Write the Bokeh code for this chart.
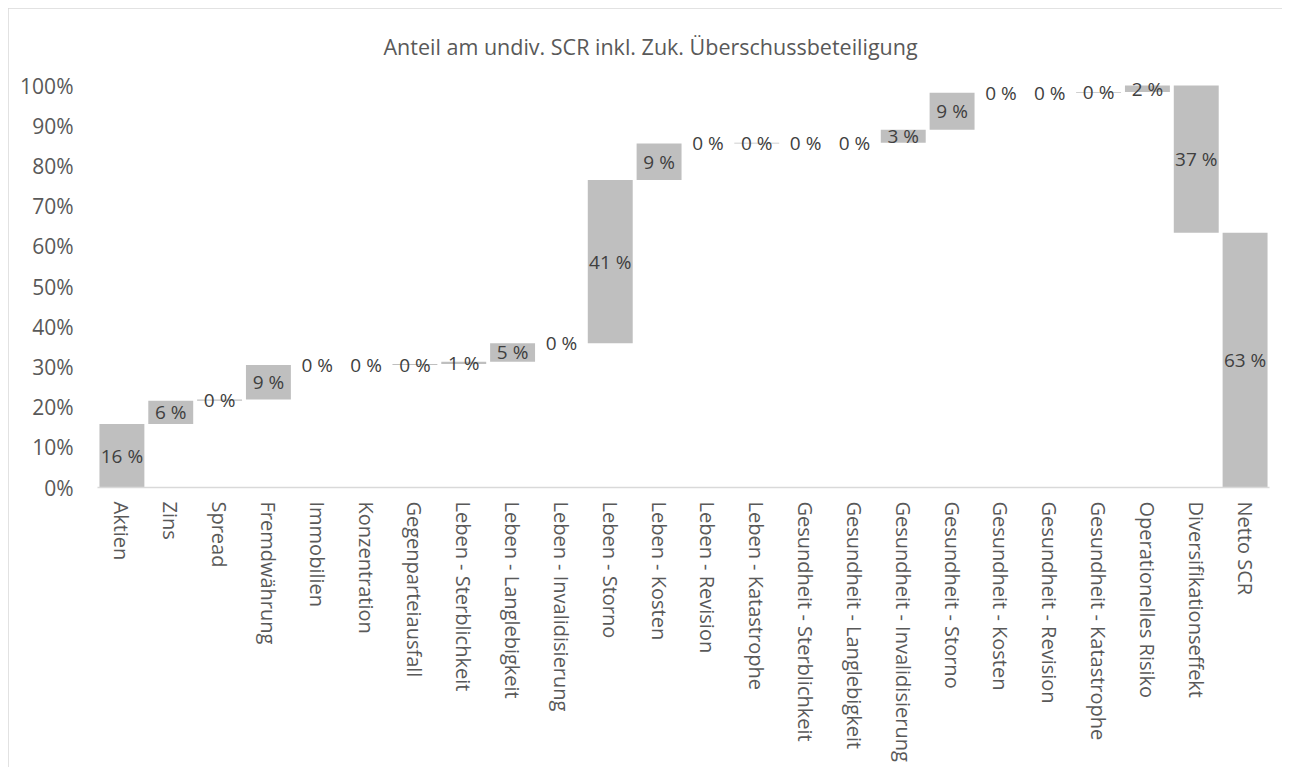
import math
from bokeh.plotting import figure
from bokeh.models import FactorRange, Range1d, ColumnDataSource, FixedTicker, NumeralTickFormatter, Title
from bokeh.core.properties import value
from bokeh.embed import file_html
from bokeh.resources import INLINE

categories = [
    "Aktien", "Zins", "Spread", "Fremdwährung", "Immobilien", "Konzentration",
    "Gegenparteiausfall", "Leben - Sterblichkeit", "Leben - Langlebigkeit",
    "Leben - Invalidisierung", "Leben - Storno", "Leben - Kosten", "Leben - Revision",
    "Leben - Katastrophe", "Gesundheit - Sterblichkeit", "Gesundheit - Langlebigkeit",
    "Gesundheit - Invalidisierung", "Gesundheit - Storno", "Gesundheit - Kosten",
    "Gesundheit - Revision", "Gesundheit - Katastrophe", "Operationelles Risiko",
    "Diversifikationseffekt", "Netto SCR",
]
# contribution of each item (share of undiversified SCR)
contributions = [
    0.158, 0.058, 0.003, 0.086, 0.0, 0.0,
    0.002, 0.006, 0.046,
    0.0, 0.406, 0.091, 0.0,
    0.002, 0.0, 0.0,
    0.032, 0.092, 0.0,
    0.0, 0.002, 0.016,
    -0.366, 0.634,
]
is_total = [False] * 23 + [True]
y_ticks = [i / 10 for i in range(11)]

bottoms, tops, label_y, labels = [], [], [], []
running = 0.0
for v, tot in zip(contributions, is_total):
    if tot:
        b, t = 0.0, v
    else:
        b, t = running, running + v
        running = t
    lo, hi = min(b, t), max(b, t)
    bottoms.append(lo)
    tops.append(hi)
    label_y.append((lo + hi) / 2)
    labels.append(f"{abs(v) * 100:.0f} %")

src = ColumnDataSource(dict(x=categories, bottom=bottoms, top=tops, ly=label_y, lab=labels))

FONT = "Open Sans"
p = figure(
    width=1274, height=759,
    x_range=FactorRange(factors=categories, range_padding=0),
    y_range=Range1d(0, 1.03),
    output_backend="svg", toolbar_location=None,
    min_border_left=89, min_border_right=13, min_border_top=65, min_border_bottom=280,
)
p.styles = {"margin-left": "8px", "margin-top": "8px",
            "outline": "1px solid #d9d9d9", "outline-offset": "-1px"}

p.add_layout(Title(text="Anteil am undiv. SCR inkl. Zuk. Überschussbeteiligung", align="left",
                   offset=286, text_font=FONT, text_font_size="21.5px", text_font_style="normal",
                   text_color="#595959", standoff=26), "above")

p.vbar(x="x", bottom="bottom", top="top", width=0.92, source=src,
       fill_color="#bfbfbf", line_color=None)
p.text(x="x", y="ly", text="lab", source=src, text_align="center", text_baseline="middle",
       text_font=value(FONT), text_font_size="19px", text_color="#404040")

p.xgrid.grid_line_color = None
p.ygrid.grid_line_color = None
p.outline_line_color = None
p.background_fill_color = "white"
p.border_fill_color = "white"

p.yaxis.ticker = FixedTicker(ticks=y_ticks)
p.yaxis.formatter = NumeralTickFormatter(format="0%")
p.yaxis.axis_line_color = None
p.yaxis.major_tick_line_color = None
p.yaxis.minor_tick_line_color = None
p.yaxis.major_tick_out = 0
p.yaxis.major_label_standoff = 24
p.yaxis.major_label_text_font = FONT
p.yaxis.major_label_text_font_size = "21px"
p.yaxis.major_label_text_color = "#595959"

p.xaxis.axis_line_color = "#d9d9d9"
p.xaxis.axis_line_width = 1.5
p.xaxis.major_tick_line_color = None
p.xaxis.minor_tick_line_color = None
p.xaxis.major_tick_out = 0
p.xaxis.major_label_standoff = 14
p.xaxis.major_label_orientation = -math.pi / 2
p.xaxis.major_label_text_font = FONT
p.xaxis.major_label_text_font_size = "20px"
p.xaxis.major_label_text_color = "#595959"

open("out.html", "w").write(file_html(p, INLINE))
